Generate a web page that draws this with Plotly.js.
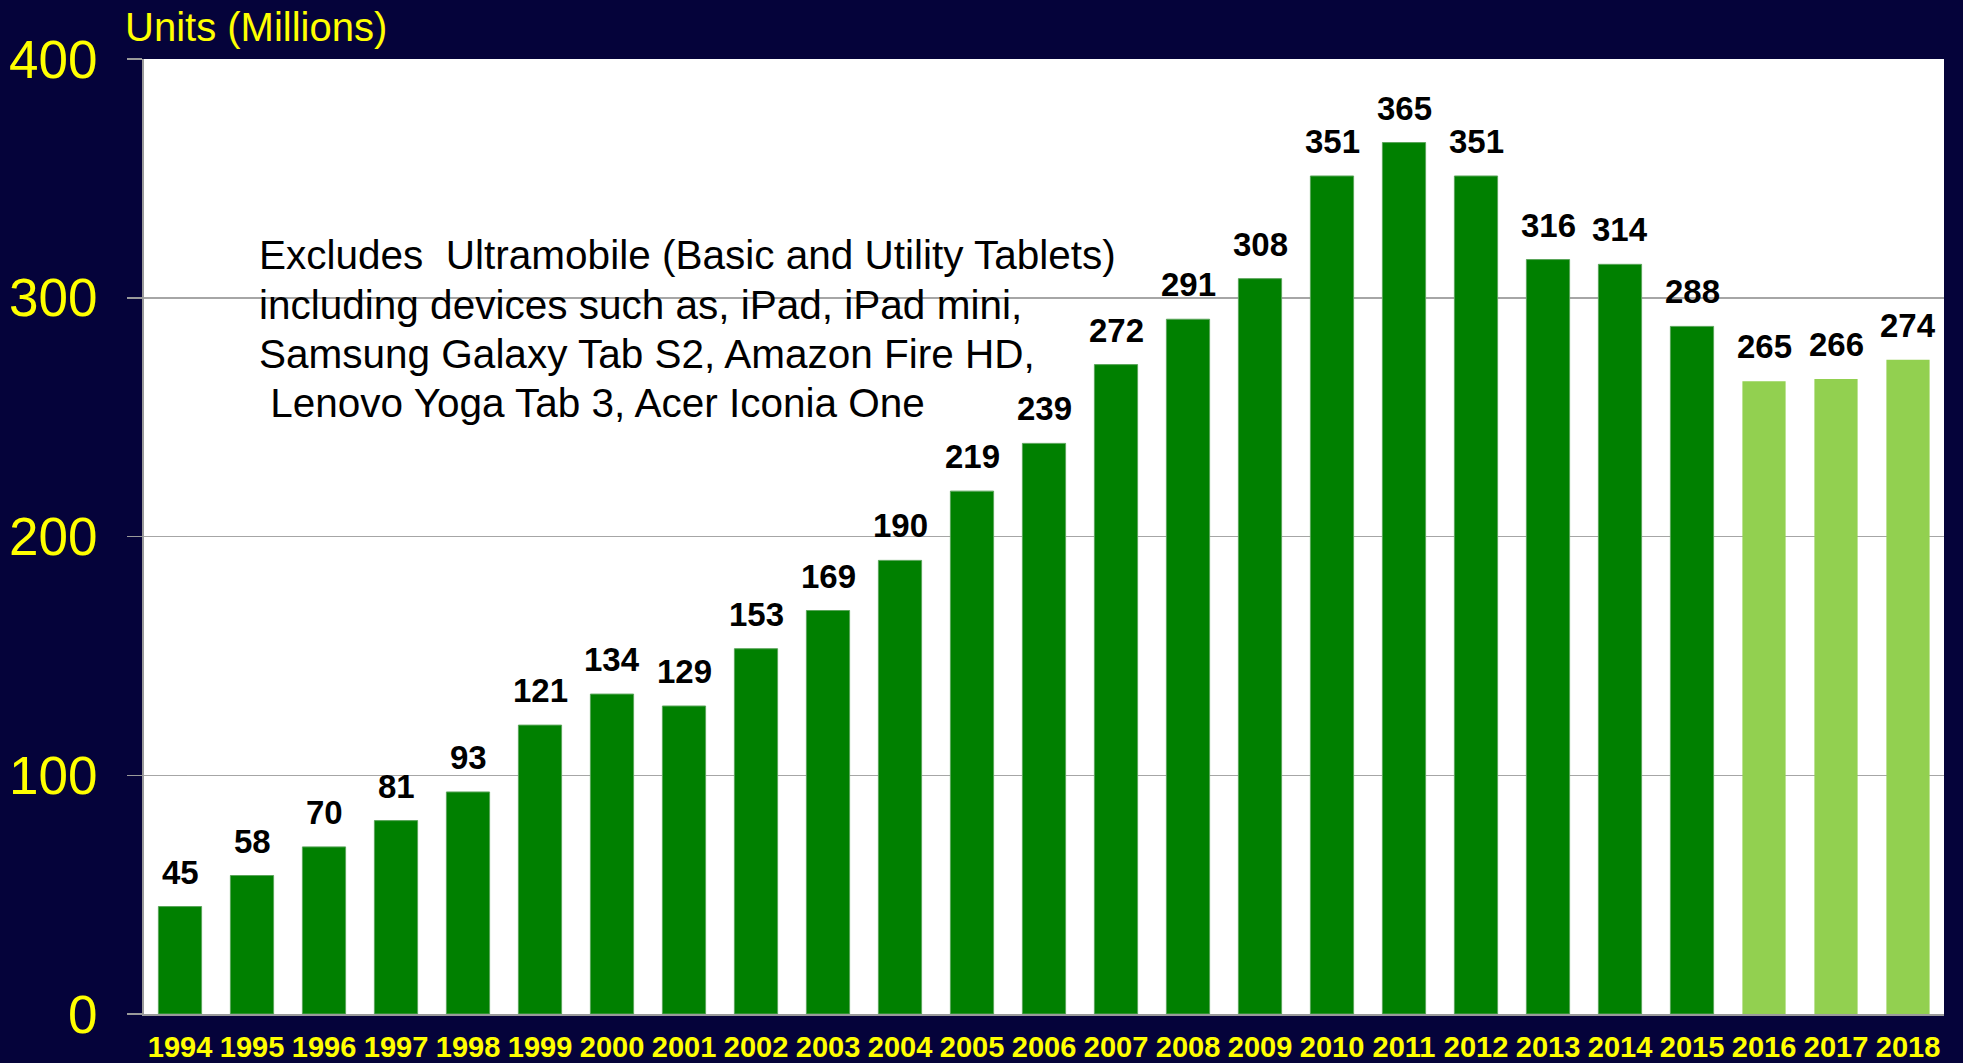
<!DOCTYPE html>
<html>
<head>
<meta charset="utf-8">
<script src="https://cdn.plot.ly/plotly-3.0.1.min.js"></script>
<style>html,body{margin:0;padding:0;background:#05033a;}#chart{width:1963px;height:1063px;}</style>
</head>
<body>
<div id="chart"></div>
<script>
const actualYears = ["1994","1995","1996","1997","1998","1999","2000","2001","2002","2003","2004","2005","2006","2007","2008","2009","2010","2011","2012","2013","2014","2015"];
const actualUnits = [45,58,70,81,93,121,134,129,153,169,190,219,239,272,291,308,351,365,351,316,314,288];
const forecastYears = ["2016","2017","2018"];
const forecastUnits = [265,266,274];
const yTicks = [0,100,200,300,400];
const yAxisTitle = "Units (Millions)";
const noteLines = ["Excludes\u00a0\u00a0Ultramobile (Basic and Utility Tablets)",
  "including devices such as, iPad, iPad mini,",
  "Samsung Galaxy Tab S2, Amazon Fire HD,",
  "\u00a0Lenovo Yoga Tab 3, Acer Iconia One"];

const allYears = actualYears.concat(forecastYears);
const allUnits = actualUnits.concat(forecastUnits);
const FONT = "Liberation Sans, Arial, sans-serif";

const traces = [
  {type:'bar', x: actualYears, y: actualUnits, marker:{color:'#008000', line:{color:'#5aa55a', width:1}}, hoverinfo:'x+y'},
  {type:'bar', x: forecastYears, y: forecastUnits, marker:{color:'#92d050', line:{width:0}}, hoverinfo:'x+y'}
];

// value labels: x uses the category index on the category axis
const annotations = allYears.map((yr,i)=>({
  x: i, y: allUnits[i], xref:'x', yref:'y', text: String(allUnits[i]),
  showarrow:false, yanchor:'bottom', yshift: 14,
  font:{family:FONT, size:33, color:'#000000', weight:'bold'}
}));
annotations.push({
  xref:'paper', yref:'paper', x: -0.0115, y: 1.0, xanchor:'left', yanchor:'bottom',
  text: yAxisTitle, showarrow:false, yshift: 8,
  font:{family:FONT, size:40, color:'#ffff00'}
});
const noteY = [0.7948, 0.7429, 0.6911, 0.6398];
noteLines.forEach((ln,k)=>annotations.push({
  xref:'paper', yref:'paper', x: 0.0625, y: noteY[k], xanchor:'left', yanchor:'middle', align:'left',
  text: ln, showarrow:false,
  font:{family:FONT, size:40.5, color:'#000000'}
}));

const layout = {
  width:1963, height:1063,
  paper_bgcolor:'#05033a', plot_bgcolor:'#ffffff',
  margin:{l:144, r:19, t:59, b:49},
  barmode:'overlay', bargap:0.4, showlegend:false,
  font:{family:FONT},
  xaxis:{
    type:'category', categoryorder:'array', categoryarray: allYears,
    range:[-0.5, 24.5], showgrid:false, showline:true, linecolor:'#9a9a9a', linewidth:2,
    ticks:'', ticklabelstandoff: 6,
    tickfont:{family:FONT, size:29, color:'#ffff00', weight:'bold'}, fixedrange:true
  },
  yaxis:{
    range:[0,400], tickvals: yTicks, ticktext: yTicks.map(String),
    showgrid:true, gridcolor:'#a6a6a6', gridwidth:1.5,
    showline:true, linecolor:'#9a9a9a', linewidth:2,
    ticks:'outside', ticklen:15, tickcolor:'#9a9a9a', tickwidth:1.5,
    ticklabelstandoff: 19,
    tickfont:{family:FONT, size:53, color:'#ffff00'}, zeroline:false, fixedrange:true
  },
  annotations: annotations
};

Plotly.newPlot('chart', traces, layout, {displayModeBar:false, staticPlot:true});
</script>
</body>
</html>
